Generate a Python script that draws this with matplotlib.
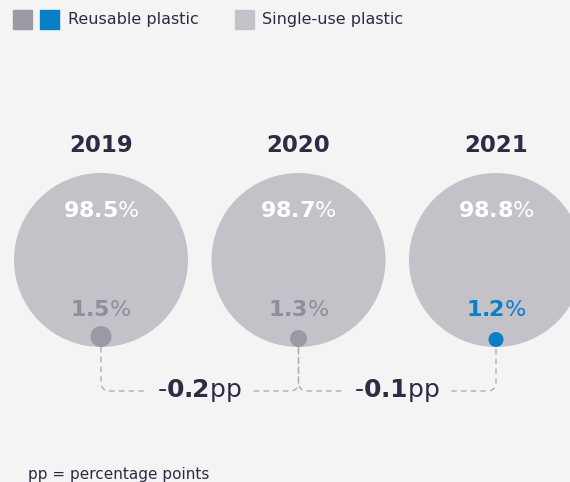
import numpy as np
import matplotlib.pyplot as plt
from matplotlib.patches import Circle, Rectangle

# data
years = ['2019', '2020', '2021']
single_use = [98.5, 98.7, 98.8]
reusable = [1.5, 1.3, 1.2]
changes = [-0.2, -0.1]

# colours
bg = '#f4f4f4'
navy = '#2c2c44'
big_grey = '#c3c2c8'
dot_grey = '#9b9aa4'
txt_grey = '#8f8e99'
blue = '#0a7fc8'
dash = '#aeaeb4'

fig = plt.figure(figsize=(5.7, 4.82), dpi=100, facecolor=bg)
ax = fig.add_axes([0, 0, 1, 1])
ax.set_xlim(0, 570)
ax.set_ylim(482, 0)
ax.set_aspect('equal')
ax.axis('off')
ax.set_facecolor(bg)

# legend
ax.add_patch(Rectangle((13, 10), 19, 19, color=dot_grey))
ax.add_patch(Rectangle((40, 10), 19, 19, color=blue))
ax.text(68, 19.5, 'Reusable plastic', fontsize=11.5, color=navy, va='center')
ax.add_patch(Rectangle((235, 10), 19, 19, color=big_grey))
ax.text(262, 19.5, 'Single-use plastic', fontsize=11.5, color=navy, va='center')

cx = [101 + i * 197.5 for i in range(len(years))]
cy = 260
R = 87

dots = []
for i, yr in enumerate(years):
    x = cx[i]
    ax.text(x, 145, yr, fontsize=16.5, fontweight='bold', color=navy,
            ha='center', va='center')
    ax.add_patch(Circle((x, cy), R, color=big_grey, lw=0))
    ax.text(x, 211, r'$\mathbf{%.1f}$%%' % single_use[i], fontsize=16,
            color='white', ha='center', va='center')
    last = i == len(years) - 1
    ax.text(x, 310, r'$\mathbf{%.1f}$%%' % reusable[i], fontsize=16,
            color=blue if last else txt_grey, ha='center', va='center')
    r = 10 * (reusable[i] - 0.45)
    dy = 347 - r
    ax.add_patch(Circle((x, dy), r, color=blue if last else dot_grey, lw=0))
    dots.append((x, dy + r))

# dashed connectors with change labels
ly = 391
cr = 8
t = np.linspace(0, np.pi / 2, 12)
for i, ch in enumerate(changes):
    (x0, y0), (x1, y1) = dots[i], dots[i + 1]
    mid = (x0 + x1) / 2
    gap = 54
    # down from the left dot, round the corner, right to the label
    xs = np.concatenate([[x0, x0], x0 + cr - cr * np.cos(t), [mid - gap]])
    ys = np.concatenate([[y0, ly - cr], ly - cr + cr * np.sin(t), [ly]])
    ax.plot(xs, ys, color=dash, lw=1, ls=(0, (4, 3)))
    # from the label, round the corner, up to the right dot
    xs = np.concatenate([[mid + gap], x1 - cr + cr * np.sin(t), [x1, x1]])
    ys = np.concatenate([[ly], ly - cr + cr * np.cos(t), [ly - cr, y1]])
    ax.plot(xs, ys, color=dash, lw=1, ls=(0, (4, 3)))
    ax.text(mid, ly - 1, r'-$\mathbf{%.1f}$pp' % abs(ch), fontsize=18,
            color=navy, ha='center', va='center')

ax.text(28, 475, 'pp = percentage points', fontsize=11, color=navy,
        va='center')

fig.savefig('out.png', dpi=100, facecolor=bg)
